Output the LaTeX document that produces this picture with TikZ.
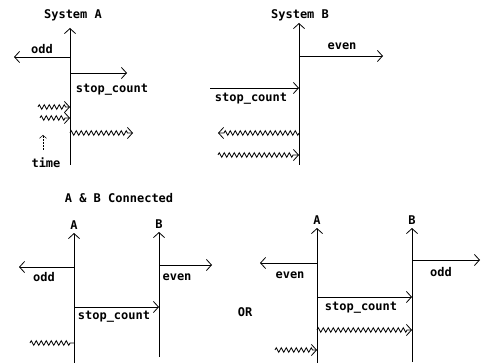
\documentclass[tikz,border=0pt]{standalone}
\usepackage{fontspec}
\setmonofont{DejaVu Sans Mono}
\usetikzlibrary{arrows.meta,decorations.pathmorphing}
\tikzset{
  sig/.style={line width=0.8pt, -{Straight Barb[length=5pt,width=11pt]}},
  wavy/.style={sig, decorate, decoration={zigzag, segment length=5pt, amplitude=2.3pt, post length=4pt}},
  wavyplain/.style={line width=0.8pt, decorate, decoration={zigzag, segment length=5pt, amplitude=2.3pt, post length=2pt}},
  lbl/.style={font=\ttfamily\bfseries\fontsize{12}{13}\selectfont, inner sep=0pt},
}
\begin{document}
\begin{tikzpicture}[x=1pt,y=-1pt]
    \useasboundingbox (0,0) rectangle (481,363);

    % System A
    \coordinate (Atop) at (70,28);
    \coordinate (Abot) at (70,165);
    \coordinate (Aodd) at (70,57);
    \coordinate (Aoddend) at (14,57);
    \coordinate (Astop) at (70,73);
    \coordinate (Astopend) at (127,73);
    \coordinate (Ain1) at (70,107);
    \coordinate (Ain1s) at (38,107);
    \coordinate (Ain2) at (70,118);
    \coordinate (Ain2s) at (40,118);
    \coordinate (Aout) at (70,133);
    \coordinate (Aoutend) at (133,133);
    \coordinate (T0) at (43,150);
    \coordinate (T1) at (43,135);

    \node[lbl] (sysA) at (73,15) {System A};
    \draw[sig] (Abot) -- (Atop);
    \draw[sig] (Aodd) -- (Aoddend);
    \node[lbl] (oddA) at (42,49) {odd};
    \draw[sig] (Astop) -- (Astopend);
    \node[lbl] (stopA) at (112,90) {stop\_count};
    \draw[wavy] (Ain1s) -- (Ain1);
    \draw[wavy] (Ain2s) -- (Ain2);
    \draw[wavy] (Aout) -- (Aoutend);
    \draw[line width=0.5pt, densely dotted, -{Straight Barb[length=3pt,width=7pt]}] (T0) -- (T1);
    \node[lbl] (time) at (46,163) {time};

    % System B
    \coordinate (Btop) at (299,23);
    \coordinate (Bbot) at (299,165);
    \coordinate (Beven) at (299,56);
    \coordinate (Bevenend) at (383,56);
    \coordinate (Bstop) at (299,88);
    \coordinate (Bstops) at (210,88);
    \coordinate (Bout) at (299,133);
    \coordinate (Boutend) at (218,133);
    \coordinate (Bin) at (299,155);
    \coordinate (Bins) at (218,155);

    \node[lbl] (sysB) at (300,15) {System B};
    \draw[sig] (Bbot) -- (Btop);
    \draw[sig] (Beven) -- (Bevenend);
    \node[lbl] (evenB) at (342,46) {even};
    \draw[sig] (Bstops) -- (Bstop);
    \node[lbl] (stopB) at (251,99) {stop\_count};
    \draw[wavy] (Bout) -- (Boutend);
    \draw[wavy] (Bins) -- (Bin);

    % A & B connected
    \node[lbl] (conn) at (119,198) {A \& B Connected};
    \coordinate (CAtop) at (74,233);
    \coordinate (CAbot) at (74,363);
    \coordinate (CBtop) at (159,232);
    \coordinate (CBbot) at (159,357);
    \coordinate (CAodd) at (74,267);
    \coordinate (CAoddend) at (19,267);
    \coordinate (CBeven) at (159,265);
    \coordinate (CBevenend) at (212,265);
    \coordinate (CAstop) at (74,307);
    \coordinate (CBstop) at (159,307);
    \coordinate (CAin) at (74,343);
    \coordinate (CAins) at (30,343);

    \draw[sig] (CAbot) -- (CAtop) node[lbl, above=3pt] (labA1) {A};
    \draw[sig] (CBbot) -- (CBtop) node[lbl, above=3pt] (labB1) {B};
    \draw[sig] (CAodd) -- (CAoddend);
    \node[lbl] (oddC) at (44,277) {odd};
    \draw[sig] (CBeven) -- (CBevenend);
    \node[lbl] (evenC) at (177,277) {even};
    \draw[sig] (CAstop) -- (CBstop);
    \node[lbl] (stopC) at (114,317) {stop\_count};
    \draw[wavyplain] (CAins) -- (CAin);

    \node[lbl] (or) at (245,312) {OR};

    % other way round
    \coordinate (DAtop) at (317,228);
    \coordinate (DAbot) at (317,363);
    \coordinate (DBtop) at (412,228);
    \coordinate (DBbot) at (412,362);
    \coordinate (DAeven) at (317,263);
    \coordinate (DAevenend) at (260,263);
    \coordinate (DBodd) at (412,260);
    \coordinate (DBoddend) at (480,260);
    \coordinate (DAstop) at (317,297);
    \coordinate (DBstop) at (412,297);
    \coordinate (DAw) at (317,330);
    \coordinate (DBw) at (412,330);
    \coordinate (DAin) at (317,350);
    \coordinate (DAins) at (275,350);

    \draw[sig] (DAbot) -- (DAtop) node[lbl, above=3pt] (labA2) {A};
    \draw[sig] (DBbot) -- (DBtop) node[lbl, above=3pt] (labB2) {B};
    \draw[sig] (DAeven) -- (DAevenend);
    \node[lbl] (evenD) at (290,275) {even};
    \draw[sig] (DBodd) -- (DBoddend);
    \node[lbl] (oddD) at (441,272) {odd};
    \draw[sig] (DAstop) -- (DBstop);
    \node[lbl] (stopD) at (361,308) {stop\_count};
    \draw[wavy] (DAw) -- (DBw);
    \draw[wavy] (DAins) -- (DAin);
\end{tikzpicture}
\end{document}
